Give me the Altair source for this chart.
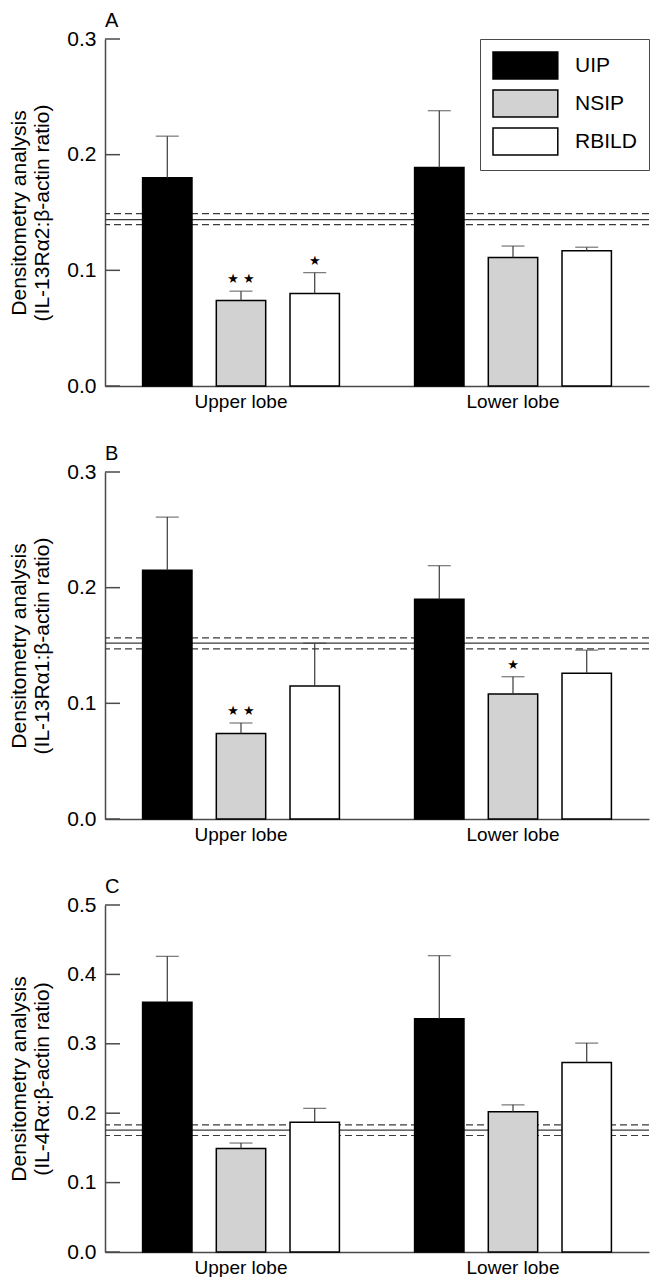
import altair as alt
import pandas as pd

# ---------------- data ----------------
groups = ["Upper lobe", "Lower lobe"]
series = ["UIP", "NSIP", "RBILD"]
fills = ["#000000", "#d2d2d2", "#ffffff"]

# order: Upper UIP, Upper NSIP, Upper RBILD, Lower UIP, Lower NSIP, Lower RBILD
a_mean = [0.180, 0.074, 0.080, 0.189, 0.111, 0.117]
a_upper = [0.216, 0.082, 0.098, 0.238, 0.121, 0.120]
a_stars = ["", "★ ★", "★", "", "", ""]
a_ref = [0.1395, 0.1438, 0.1490]
a_ticks = [0.0, 0.1, 0.2, 0.3]

b_mean = [0.215, 0.074, 0.115, 0.190, 0.108, 0.126]
b_upper = [0.261, 0.083, 0.152, 0.219, 0.123, 0.146]
b_stars = ["", "★ ★", "", "", "★", ""]
b_ref = [0.1471, 0.1520, 0.1566]
b_ticks = [0.0, 0.1, 0.2, 0.3]

c_mean = [0.360, 0.149, 0.187, 0.336, 0.202, 0.273]
c_upper = [0.426, 0.157, 0.207, 0.427, 0.212, 0.301]
c_stars = ["", "", "", "", "", ""]
c_ref = [0.1679, 0.1755, 0.1832]
c_ticks = [0.0, 0.1, 0.2, 0.3, 0.4, 0.5]

ref_kinds = ["bound", "mean", "bound"]

FONT = "Liberation Sans"
AX = "#4a4a4a"
LINE = "#3a3a3a"
W, H = 544, 347


def panel(letter, ratio_label, means, uppers, stars, refs, ticks, show_legend):
    rows = []
    i = 0
    for g in groups:
        for s in series:
            rows.append({"lobe": g, "disease": s, "value": means[i],
                         "upper": uppers[i], "star": stars[i]})
            i += 1
    df = pd.DataFrame(rows)
    df_ref = pd.DataFrame({"value": refs, "kind": ref_kinds})
    df_ticks = pd.DataFrame({"value": ticks})

    ymax = ticks[-1]
    title = ["Densitometry analysis", ratio_label]
    yscale = alt.Scale(domain=[0, ymax], nice=False, zero=True)
    yaxis = alt.Axis(values=ticks, format=".1f", ticks=False, grid=False,
                     domainColor=AX, domainWidth=1.5,
                     labelFont=FONT, labelFontSize=21, labelColor="black",
                     labelPadding=9, titleFont=FONT, titleFontSize=21,
                     titleFontWeight="normal", titleColor="black",
                     titleLineHeight=23, titlePadding=14)

    def Y(field):
        return alt.Y(field, scale=yscale, axis=yaxis, title=title)

    xenc = alt.X("lobe:N", sort=groups,
                 scale=alt.Scale(paddingInner=0, paddingOuter=0),
                 axis=alt.Axis(title=None, labelAngle=0, ticks=False,
                               domainColor=AX, domainWidth=1.5,
                               labelFont=FONT, labelFontSize=19,
                               labelColor="black", labelPadding=6))
    xoff = alt.XOffset("disease:N", sort=series,
                       scale=alt.Scale(paddingInner=0.33, paddingOuter=0.51))

    if show_legend:
        legend = alt.Legend(
            title=None, orient="top-right", offset=0,
            symbolType="M-1,-1H3.8V1H-1Z", symbolSize=729,
            symbolStrokeColor="black", symbolStrokeWidth=1.5,
            symbolOpacity=1, labelOffset=54, rowPadding=5,
            padding=12, strokeColor=AX, fillColor="white",
            labelFont=FONT, labelFontSize=21, labelColor="black")
    else:
        legend = None

    color = alt.Color("disease:N", sort=series,
                      scale=alt.Scale(domain=series, range=fills),
                      legend=legend)

    ref = alt.Chart(df_ref).mark_rule(color=LINE, strokeWidth=1.2).encode(
        y=Y("value:Q"),
        strokeDash=alt.StrokeDash("kind:N",
                                  scale=alt.Scale(domain=["mean", "bound"],
                                                  range=[[1, 0], [7, 4]]),
                                  legend=None))
    bars = alt.Chart(df).mark_bar(stroke="black", strokeWidth=1.5).encode(
        x=xenc, xOffset=xoff, y=Y("value:Q"), color=color)
    err = alt.Chart(df).mark_rule(color=LINE, strokeWidth=1.2).encode(
        x=xenc, xOffset=xoff, y=Y("value:Q"), y2="upper:Q")
    caps = alt.Chart(df).mark_tick(color=LINE, thickness=1.2, size=23,
                                   orient="horizontal").encode(
        x=xenc, xOffset=xoff, y=Y("upper:Q"))
    star = alt.Chart(df).mark_text(font="DejaVu Sans", fontSize=13, dy=-12,
                                   baseline="middle", color="black").encode(
        x=xenc, xOffset=xoff, y=Y("upper:Q"), text="star:N")
    tk = alt.Chart(df_ticks).mark_rule(color=AX, strokeWidth=1.5).encode(
        y=Y("value:Q"), x=alt.value(0), x2=alt.value(15))

    return alt.layer(ref, bars, err, caps, star, tk).properties(
        width=W, height=H,
        title=alt.TitleParams(letter, anchor="start", frame="group",
                              font=FONT, fontSize=20, fontWeight="normal",
                              color="black", offset=-3))


pa = panel("A", "(IL-13R\u03b12:\u03b2-actin ratio)", a_mean, a_upper, a_stars,
           a_ref, a_ticks, True)
pb = panel("B", "(IL-13R\u03b11:\u03b2-actin ratio)", b_mean, b_upper, b_stars,
           b_ref, b_ticks, False)
pc = panel("C", "(IL-4R\u03b1:\u03b2-actin ratio)", c_mean, c_upper, c_stars,
           c_ref, c_ticks, False)

chart = alt.vconcat(pa, pb, pc, spacing=33).resolve_scale(
    color="independent").properties(
    padding={"left": 0, "right": 0, "top": 3, "bottom": 0}
).configure_view(strokeWidth=0)

chart.save("out.html", embed_options={"renderer": "svg", "actions": False})
